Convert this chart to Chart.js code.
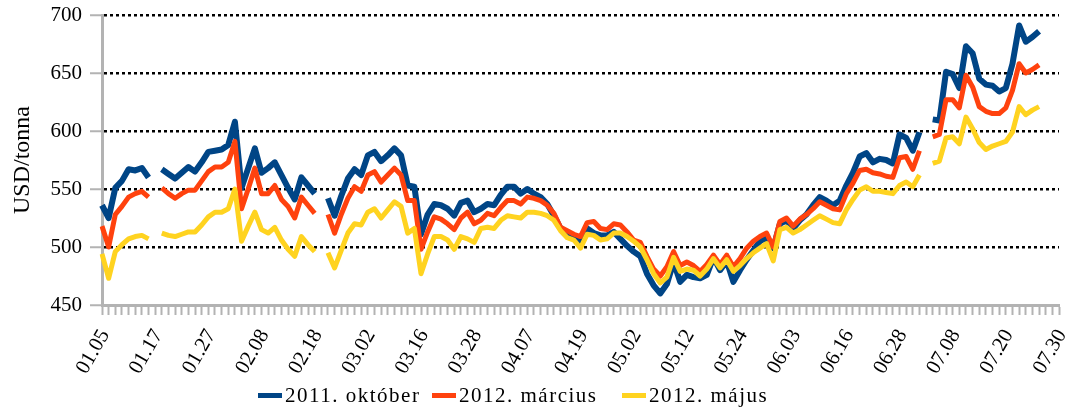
<!DOCTYPE html>
<html lang="hu">
<head>
    <meta charset="UTF-8">
    <title>USD/tonna</title>
    <script src="https://cdn.jsdelivr.net/npm/chart.js"></script>
    <style>
        body {
            margin: 0;
            background: #fff;
            font-family: 'Liberation Serif', serif;
        }

        #wrap {
            position: relative;
            width: 1065px;
            height: 411px;
        }

        .legend-item {
            position: absolute;
            top: 385px;
            display: flex;
            align-items: center;
            font-size: 21px;
            line-height: 21px;
            letter-spacing: 1.5px;
            color: #000;
            white-space: nowrap;
        }

        .legend-item .sw {
            width: 24px;
            height: 5px;
            margin-right: 3px;
        }
    </style>
</head>
<body>
    <div id="wrap">
        <canvas id="chart" width="1065" height="411"></canvas>
    </div>

    <script>
        // napok (x tengely)
        const dates = [
            '01.05','01.06','01.07','01.10','01.11','01.12','01.13','01.14','01.17','01.18',
            '01.19','01.20','01.21','01.24','01.25','01.26','01.27','01.28','01.31','02.01',
            '02.02','02.03','02.04','02.07','02.08','02.09','02.10','02.11','02.14','02.15',
            '02.16','02.17','02.18','02.21','02.22','02.23','02.24','02.25','02.28','03.01',
            '03.02','03.03','03.04','03.07','03.08','03.09','03.14','03.15','03.16','03.17',
            '03.18','03.21','03.22','03.23','03.24','03.25','03.28','03.29','03.30','03.31',
            '04.01','04.04','04.05','04.06','04.07','04.08','04.11','04.12','04.13','04.14',
            '04.15','04.18','04.19','04.20','04.21','04.25','04.26','04.27','04.28','04.29',
            '05.02','05.03','05.04','05.05','05.06','05.09','05.10','05.11','05.12','05.13',
            '05.16','05.17','05.18','05.19','05.20','05.23','05.24','05.25','05.26','05.27',
            '05.30','05.31','06.01','06.02','06.03','06.06','06.07','06.08','06.09','06.10',
            '06.13','06.14','06.16','06.17','06.20','06.21','06.22','06.23','06.24','06.27',
            '06.28','06.29','06.30','07.01','07.04','07.05','07.06','07.07','07.08','07.11',
            '07.12','07.13','07.14','07.15','07.18','07.19','07.20','07.21','07.22','07.25',
            '07.26','07.27','07.28','07.29','07.30'
        ];

        const oct2011 = [
            536, 525, 551, 557, 567, 566, 568, 560, null, 567,
            563, 559, 564, 569, 565, 573, 582, 583, 584, 588,
            608, 551, 568, 585, 564, 568, 573, 562, 551, 541,
            560, 553, 546, null, 542, 527, 544, 559, 567, 562,
            579, 582, 574, 579, 585, 579, 553, 552, 511, 528,
            537, 536, 533, 527, 538, 540, 530, 533, 537, 536,
            545, 552, 552, 546, 550, 546, 543, 537, 527, 516,
            512, 509, 504, 516, 512, 510, 510, 513, 507, 501,
            496, 492, 477, 467, 460, 468, 487, 470, 476, 474,
            473, 476, 491, 480, 488, 470, 480, 489, 497, 505,
            508, 499, 520, 523, 516, 523, 528, 536, 543, 540,
            536, 540, 553, 564, 578, 581, 573, 576, 575, 572,
            597, 594, 583, 599, null, 610, 609, 651, 649, 637,
            673, 667, 645, 640, 639, 634, 637, 658, 691, 677,
            681, 686, null, null, null
        ];

        const mar2012 = [
            518, 500, 528, 535, 543, 546, 548, 543, null, 551,
            546, 542, 546, 549, 549, 557, 565, 569, 569, 573,
            591, 533, 550, 568, 546, 546, 553, 541, 535, 525,
            543, 536, 529, null, 528, 512, 528, 542, 552, 548,
            562, 565, 556, 562, 568, 562, 540, 540, 498, 513,
            526, 524, 520, 515, 525, 530, 520, 523, 529, 527,
            534, 540, 540, 537, 543, 542, 540, 536, 529, 517,
            514, 511, 509, 521, 522, 516, 515, 520, 519, 513,
            506, 504, 492, 481, 475, 483, 496, 484, 487, 484,
            479, 485, 493, 485, 493, 483, 490, 499, 505, 509,
            512, 500, 522, 525, 518, 524, 528, 533, 539, 536,
            533, 532, 546, 555, 566, 567, 564, 563, 561, 560,
            577, 578, 567, 583, null, 595, 597, 627, 627, 620,
            648, 638, 621, 617, 615, 615, 620, 635, 658, 650,
            653, 657, null, null, null
        ];

        const may2012 = [
            494, 473, 496, 502, 507, 509, 510, 507, null, 512,
            510, 509, 511, 513, 513, 519, 526, 530, 530, 533,
            550, 505, 518, 530, 515, 512, 517, 506, 498, 492,
            509, 502, 496, null, 495, 482, 497, 512, 520, 519,
            530, 533, 525, 532, 539, 535, 512, 516, 477, 494,
            509, 509, 506, 498, 509, 507, 504, 516, 517, 516,
            523, 527, 526, 525, 530, 530, 529, 527, 523, 514,
            508, 506, 499, 511, 510, 506, 507, 512, 512, 509,
            505, 500, 489, 477, 469, 474, 491, 479, 481, 480,
            475, 481, 490, 482, 489, 479, 484, 490, 495, 499,
            503, 488, 515, 517, 512, 515, 519, 523, 527, 524,
            521, 520, 532, 541, 549, 552, 548, 548, 547, 546,
            553, 556, 552, 562, null, 572, 574, 594, 595, 589,
            612, 602, 590, 584, 587, 589, 591, 599, 621, 614,
            618, 621, null, null, null
        ];

        const seriesNames = ['2011. október', '2012. március', '2012. május'];
        const seriesColors = ['#004586', '#ff420e', '#ffd320'];
        const seriesData = [oct2011, mar2012, may2012];

        const axisGray = '#b3b3b3';
        const legendLeft = [258, 432, 622];
        Chart.defaults.font.family = "'Liberation Serif', serif";
        Chart.defaults.color = '#000';

        // a sarga legyen felul, a kek alul
        const datasets = seriesData.map((d, i) => ({
            label: seriesNames[i],
            data: d,
            borderColor: seriesColors[i],
            backgroundColor: seriesColors[i],
            borderWidth: i === 0 ? 6 : 5,
            order: 3 - i
        }));

        const chart = new Chart(document.getElementById('chart'), {
            type: 'line',
            data: { labels: dates, datasets: datasets },
            options: {
                responsive: false,
                animation: false,
                layout: { padding: { top: 15, right: 6, bottom: 0, left: 0 } },
                elements: {
                    line: { tension: 0, borderJoinStyle: 'round' },
                    point: { radius: 0, hoverRadius: 0 }
                },
                plugins: {
                    legend: { display: false },
                    tooltip: { enabled: false }
                },
                scales: {
                    x: {
                        offset: false,
                        grid: {
                            offset: false,
                            drawOnChartArea: false,
                            tickLength: 10,
                            tickColor: axisGray,
                            tickWidth: 2
                        },
                        border: { color: axisGray, width: 3 },
                        ticks: {
                            autoSkip: false,
                            minRotation: 60,
                            maxRotation: 60,
                            padding: 10,
                            labelOffset: 3,
                            font: { size: 21 },
                            callback: (value, index) => index % 8 === 0 ? dates[index] : ''
                        },
                        afterFit: (s) => {
                            s.height = 106;
                            s.paddingLeft = 0;
                            s.paddingRight = 0;
                        }
                    },
                    y: {
                        min: 450,
                        max: 700,
                        ticks: { stepSize: 50, padding: 8, font: { size: 21 } },
                        grid: {
                            color: (c) => c.tick && c.tick.value === 450 ? 'rgba(0,0,0,0)' : '#000',
                            lineWidth: 2.5,
                            tickLength: 12,
                            tickColor: axisGray,
                            tickWidth: 2
                        },
                        border: { color: axisGray, width: 3, dash: [3, 3] },
                        title: {
                            display: true,
                            text: 'USD/tonna',
                            font: { size: 24 },
                            padding: { top: 8, bottom: 0 }
                        },
                        afterFit: (s) => {
                            s.width = 102;
                            s.paddingTop = 0;
                            s.paddingBottom = 0;
                        }
                    }
                }
            }
        });

        // jelmagyarazat
        const wrap = document.getElementById('wrap');
        seriesNames.forEach((name, i) => {
            const item = document.createElement('div');
            item.className = 'legend-item';
            item.style.left = legendLeft[i] + 'px';
            const sw = document.createElement('span');
            sw.className = 'sw';
            sw.style.background = seriesColors[i];
            const txt = document.createElement('span');
            txt.textContent = name;
            item.appendChild(sw);
            item.appendChild(txt);
            wrap.appendChild(item);
        });
    </script>
</body>
</html>
